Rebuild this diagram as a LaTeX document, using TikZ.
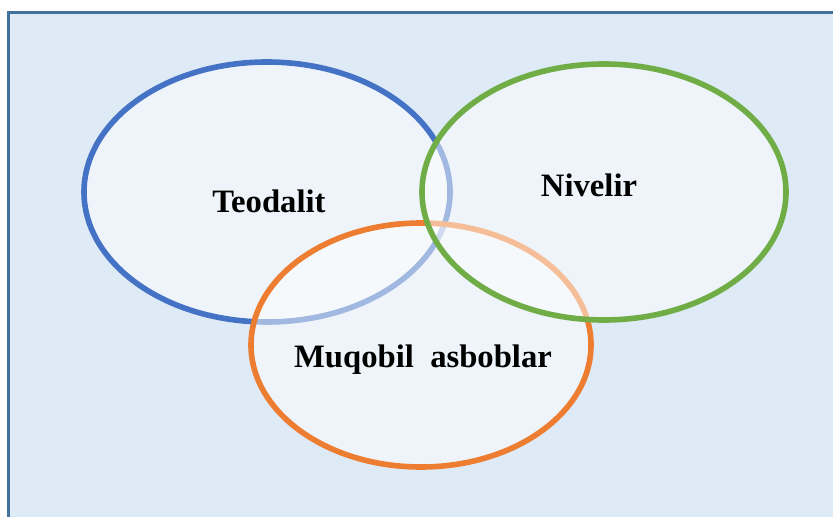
\documentclass[tikz,border=0pt]{standalone}
\usepackage{fontspec}
\setmainfont{Liberation Serif}
\usepackage{tikz}

\definecolor{panelfill}{HTML}{DEEAF6}
\definecolor{panelline}{HTML}{41719C}
\definecolor{teoblue}{HTML}{4472C4}
\definecolor{nivgreen}{HTML}{70AD47}
\definecolor{muqorange}{HTML}{ED7D31}

\tikzset{
    ring/.style={line width=4.2pt, fill=white, fill opacity=0.5, draw opacity=1},
    word/.style={font=\fontsize{24.5}{29}\selectfont\bfseries, text=black}
}

\begin{document}
\begin{tikzpicture}[x=0.75pt, y=-0.75pt]
    % Page area
    \useasboundingbox (0,0) rectangle (833,517);
    \clip (0,0) rectangle (833,517);

    % Draw the panel
    \draw[line width=2.6pt, draw=panelline, fill=panelfill] (8.5,12.5) rectangle (845,530);

    % Draw the three rings (order matters for the overlaps)
    \draw[ring, draw=teoblue] (267,192) ellipse (183 and 130);
    \draw[ring, draw=muqorange] (421,345) ellipse (170 and 122);
    \draw[ring, draw=nivgreen] (604,192) ellipse (182 and 128);

    % Labels
    \node[word] (teodalit) at (269,201) {Teodalit};
    \node[word] (nivelir) at (589,185) {Nivelir};
    \node[word] (muqobil) at (423,360) {Muqobil\ \ asboblar};
\end{tikzpicture}
\end{document}
